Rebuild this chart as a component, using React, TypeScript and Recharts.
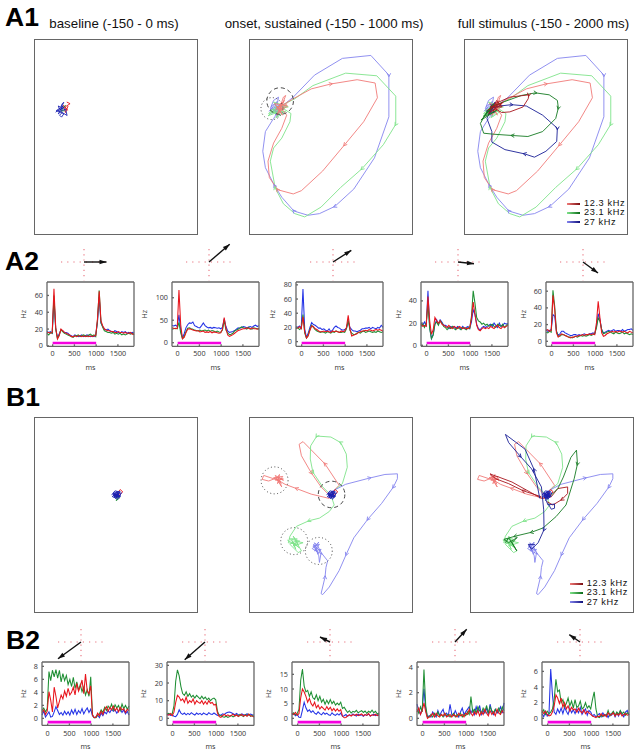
import React from "react";
import { LineChart, Line, XAxis, YAxis, ReferenceLine, ReferenceDot } from "recharts";

const FONT = "'Liberation Sans', Arial, sans-serif";
const TICK_FONT = "'Open Sans', sans-serif";
const RED = "#e8141c";
const GREEN = "#1f8f34";
const BLUE = "#2433e6";
const LIGHT_RED = "#f07a78";
const LIGHT_GREEN = "#7fe38a";
const LIGHT_BLUE = "#8484ee";
const DARK_RED = "#a8141c";
const DARK_GREEN = "#157a22";
const DARK_BLUE = "#1a1f96";

const frequencies = ["12.3 kHz", "23.1 kHz", "27 kHz"];

// time bins (ms) shared by all PSTH panels
const times = [
  -130, -90, -50, -10, 30, 70, 110, 150, 190, 230,
  270, 310, 350, 390, 430, 470, 510, 550, 590, 630,
  670, 710, 750, 790, 830, 870, 910, 950, 990, 1030,
  1070, 1110, 1150, 1190, 1230, 1270, 1310, 1350, 1390, 1430,
  1470, 1510, 1550, 1590, 1630, 1670, 1710, 1750, 1790, 1830, 1870,
];

const a2r1 = [16,16,15,16,68,22,8,12,20,18,16,15,14,13,11,11,12,11,12,12,11,12,11,12,11,12,11,12,12,32,65,30,24,20,19,18,18,17,17,16,16,17,16,16,15,16,15,15,16,14,14];
const a2g1 = [15,13,16,15,60,20,9,13,19,17,15,14,13,12,11,10,12,12,13,11,12,13,12,11,13,14,12,13,11,30,66,28,22,18,17,16,16,15,16,14,15,14,15,13,14,13,14,15,14,15,13];
const a2b1 = [17,16,17,15,55,21,10,14,19,18,16,16,15,13,12,11,13,12,11,12,13,11,12,13,12,11,12,11,13,28,58,27,23,20,19,20,18,17,16,18,17,16,15,17,16,17,15,16,15,16,15];

const a2r2 = [33,32,31,32,117,40,9,12,22,30,31,30,28,27,26,27,24,25,26,23,24,23,25,22,24,23,22,21,22,30,56,32,17,14,16,18,21,24,27,28,30,31,31,33,32,30,33,31,31,30,32];
const a2g2 = [30,31,32,31,45,22,9,14,24,32,33,31,30,28,27,26,28,26,27,28,26,28,25,27,26,24,26,24,23,28,50,28,22,18,19,21,26,28,30,33,35,33,32,30,34,31,30,33,32,31,30];
const a2b2 = [38,37,39,36,62,28,11,20,33,40,44,43,46,38,36,34,33,38,44,38,35,33,34,32,34,33,32,33,31,34,53,36,26,23,24,25,27,30,33,32,34,36,35,33,35,36,34,37,39,36,38];

const a2r3 = [20,19,21,18,35,14,5,8,16,22,21,18,17,15,14,14,15,14,15,14,13,15,14,15,14,13,15,14,15,20,37,18,8,9,10,11,13,14,15,15,16,15,17,16,15,16,17,16,17,16,15];
const a2g3 = [18,20,17,19,38,12,5,9,17,23,20,17,15,14,13,14,13,12,14,13,12,14,13,15,14,13,13,14,13,18,30,16,12,10,10,12,13,12,14,15,13,14,15,14,13,14,13,15,14,13,14];
const a2b3 = [21,20,22,19,74,18,6,12,20,27,24,23,21,19,19,17,18,16,15,18,14,16,20,22,20,19,17,16,17,19,28,20,17,15,15,14,15,16,18,18,19,19,20,18,20,19,18,20,19,23,20];

const a2r4 = [19,17,18,17,44,22,10,14,25,22,20,22,19,18,17,16,18,16,15,17,16,15,17,16,15,16,15,15,16,24,39,28,18,14,13,15,16,15,16,15,17,16,15,17,18,16,15,17,16,17,18];
const a2g4 = [17,19,16,20,37,15,6,9,19,21,18,22,20,17,16,14,16,15,17,15,14,16,15,14,16,15,14,16,15,26,49,38,25,22,21,19,20,18,19,17,18,19,17,16,19,18,17,19,16,18,19];
const a2b4 = [20,18,21,18,49,16,6,10,19,23,19,23,21,18,18,17,15,17,16,17,15,17,16,15,17,15,16,17,15,21,32,28,19,15,14,16,17,16,17,18,19,17,20,18,16,20,17,18,20,19,20];

const a2r5 = [13,14,12,13,55,38,10,5,7,9,8,7,6,5,4,5,5,6,6,7,7,8,7,8,8,9,8,9,8,22,48,28,10,6,7,9,10,11,12,11,12,11,12,12,11,12,11,10,12,11,10];
const a2g5 = [11,10,12,11,61,42,12,6,6,8,8,7,6,5,5,4,5,6,5,6,7,6,7,6,7,8,7,8,9,16,28,24,14,9,10,11,12,11,10,9,11,10,9,10,11,9,10,9,8,9,8];
const a2b5 = [14,12,13,14,32,30,12,7,9,12,12,10,9,8,7,7,8,8,7,8,7,8,9,8,8,9,9,10,9,18,33,26,14,10,11,12,13,12,13,14,12,13,13,12,14,12,13,14,14,15,13];

const b2g1 = [1.2,1.6,1.0,1.5,7.2,5.8,7.4,6.4,7.5,6.2,7.4,5.6,6.9,5.8,6.6,5.2,6.0,4.9,6.3,4.6,5.6,4.3,5.2,4.1,4.8,3.6,4.4,3.4,6.4,0.6,0.1,0.1,0.5,0.7,1.3,0.9,1.7,1.2,1.9,1.5,2.2,1.3,2.1,1.6,2.0,1.2,2.2,1.5,2.0,1.4,1.9];
const b2r1 = [0.9,1.3,0.6,1.1,4.1,2.8,1.0,4.8,3.4,1.6,2.6,3.6,3.0,4.2,3.4,4.6,3.6,4.0,4.8,3.6,5.4,4.2,4.9,5.9,3.8,6.8,4.2,3.8,5.0,0.5,0.1,0.2,0.8,0.4,1.1,0.6,1.4,1.8,1.1,1.7,1.3,1.9,1.2,1.6,1.0,1.7,1.3,1.5,0.9,1.4,1.2];
const b2b1 = [0.5,1.1,0.2,0.6,1.0,0.2,0.3,1.0,1.8,1.2,0.6,0.9,0.5,1.1,0.6,1.0,0.5,1.3,0.7,1.4,0.6,1.2,0.8,1.5,0.7,1.2,1.6,0.9,1.4,0.4,0.1,0.2,0.5,0.1,0.8,0.4,1.0,0.7,1.2,0.9,1.4,1.1,1.3,0.8,1.2,1.5,0.9,1.3,0.7,1.1,0.5];

const b2g2 = [2.4,2.8,2.2,2.6,7,21,27.5,24,18,14,13,15,12.5,14,12,13,11.5,13,12,11,12.5,11,12,10.5,11.5,10,11,11.5,10.5,4,1.8,1.6,0.9,0.6,1.2,0.5,1.0,1.6,0.8,1.4,2.1,1.1,2.3,1.5,1.0,2.2,1.4,2.4,1.1,1.7,0.6];
const b2r2 = [2.2,1.8,2.7,1.5,3.5,9,13,12,10,11,9,12,8.5,10,9,11,8,10,9,8.5,10,8,9.5,8,10,8.5,9,7.5,8,3,1.0,0.5,1.6,2.2,1.4,2.0,1.2,1.7,2.4,1.3,1.9,1.1,1.6,2.2,1.3,1.8,1.1,2.3,1.5,1.2,1.0];
const b2b2 = [1.8,2.4,1.6,2.0,1.2,1.0,2.2,4.8,3.0,2.2,3.0,2.0,2.8,2.1,3.2,2.4,1.9,3.0,2.2,2.8,2.0,3.0,2.4,2.0,3.2,2.5,2.2,3.0,2.3,1.6,2.0,1.8,2.6,2.2,3.0,3.4,3.6,3.2,2.6,2.1,2.8,2.0,1.6,2.5,2.0,1.7,2.6,1.8,2.4,2.0,1.8];

const b2g3 = [1.4,1.9,1.2,1.7,3.0,13,16.8,11,9,9.5,7.5,9,7,6.5,8,6,7.5,5.5,6.5,4.8,6.2,5,6.4,5,5.8,4.5,5.2,4.6,5.5,3.4,3.8,2.8,2.0,2.6,1.8,2.4,2.1,2.7,1.9,2.3,2.6,2.0,2.5,1.7,2.4,2.0,2.8,1.9,2.4,1.5,1.8];
const b2r3 = [1.8,1.3,2.0,1.1,1.6,7,10,9,7.5,5.5,6.8,5,4.2,5.5,3.6,4.5,3.2,4,3.4,2.8,4,3,3.8,2.6,3.4,2.5,3.2,2.4,3,0.8,0.2,0.3,0.9,1.2,0.8,1.3,1.0,1.4,0.9,1.2,1.5,0.9,1.3,1.0,1.6,0.8,1.2,1.0,1.4,0.9,1.3];
const b2b3 = [1.2,1.6,0.9,1.3,0.4,0.3,2.8,5.5,3.6,2.4,2.9,2.0,2.6,1.8,1.4,2.2,1.6,1.2,2.0,1.4,1.8,1.2,1.0,1.9,1.3,1.0,1.6,1.1,1.8,0.7,0.9,1.3,0.7,1.2,0.9,1.5,1.1,0.8,1.4,1.0,1.2,0.7,1.3,1.0,1.5,0.8,1.1,1.4,0.9,1.2,1.0];

const b2g4 = [0.7,0.4,0.9,0.5,3.8,1.0,0.1,0.1,0.3,0.1,0.4,0.2,0.5,0.2,0.3,0.1,0.4,0.2,0.3,0.1,0.2,0.4,0.1,0.3,0.2,0.4,0.1,0.3,0.2,0.5,0.3,1.7,0.5,0.7,0.4,0.9,0.6,0.4,0.8,0.5,1.0,0.4,0.9,0.6,0.4,0.7,0.5,0.8,0.4,0.9,0.6];
const b2r4 = [0.5,0.8,0.3,0.6,1.2,0.5,0.0,0.1,0.2,0.4,0.1,0.4,0.2,0.1,0.3,0.2,0.4,0.1,0.2,0.3,0.1,0.3,0.2,0.1,0.4,0.2,0.3,0.1,0.4,0.3,0.7,0.4,0.2,0.5,0.3,0.6,0.2,0.5,0.3,0.7,0.4,0.2,0.6,0.3,0.5,0.2,0.7,0.4,0.3,0.6,0.4];
const b2b4 = [1.1,0.6,0.3,0.8,2.3,0.7,0.1,0.2,0.1,0.5,0.3,0.1,0.6,0.2,0.5,0.7,0.2,0.4,0.2,1.1,0.3,0.2,0.6,0.3,0.1,0.5,0.8,0.3,0.5,0.7,0.9,0.4,0.7,0.3,0.9,0.5,1.0,0.3,0.6,0.4,0.8,0.3,1.1,0.5,0.3,0.7,0.4,0.6,0.9,0.4,1.2];

const b2g5 = [0.7,1.1,0.5,0.9,0.6,0.8,1.2,2.4,5.0,3.4,3.6,2.0,2.4,1.5,1.9,2.6,1.6,2.2,1.3,2.4,1.4,1.6,2.2,1.2,1.4,2.0,1.3,1.6,1.2,2.4,3.4,1.2,0.2,0.1,0.4,0.2,0.5,0.3,1.0,0.3,0.6,0.9,0.4,0.8,0.5,1.0,0.6,0.8,0.4,0.7,0.5];
const b2r5 = [1.0,0.6,0.9,0.5,0.3,0.4,0.8,1.6,3.0,2.6,1.9,2.6,1.4,2.0,1.2,1.6,0.9,1.4,1.1,1.2,0.8,1.3,0.9,0.7,1.1,0.6,0.9,0.7,0.5,0.3,0.2,0.1,0.3,0.2,0.6,0.3,0.5,0.2,0.7,0.4,0.5,0.7,0.3,0.6,0.4,0.7,0.3,0.5,0.6,0.4,0.5];
const b2b5 = [0.6,0.2,0.9,0.3,0.5,6.3,3.0,0.8,0.5,1.2,0.7,1.3,0.6,1.4,0.9,0.5,1.3,0.7,1.1,0.6,1.2,0.7,1.4,0.5,0.9,1.2,0.4,1.0,0.8,0.3,0.5,0.2,0.4,0.6,0.2,0.7,0.3,0.5,0.1,0.6,0.4,0.8,0.2,0.7,0.3,0.9,0.5,0.2,0.8,1.0,0.4];

const a2Traces = [
  [a2b1, a2g1, a2r1], [a2b2, a2g2, a2r2], [a2b3, a2g3, a2r3], [a2b4, a2g4, a2r4], [a2b5, a2g5, a2r5],
];
const b2Traces = [
  [b2b1, b2g1, b2r1], [b2b2, b2g2, b2r2], [b2b3, b2g3, b2r3], [b2b4, b2g4, b2r4], [b2b5, b2g5, b2r5],
];
const a2Domains = [[-0.5, 76], [-8, 135], [-6.6, 84], [-0.9, 57], [-6, 71]];
const b2Domains = [[-1.08, 8.67], [-4, 31.9], [-2.4, 19.2], [-0.55, 4.39], [-0.9, 7.2]];
const a2Ticks = [[0, 20, 40, 60], [0, 50, 100], [0, 20, 40, 60, 80], [0, 20, 40], [0, 20, 40, 60]];
const b2Ticks = [[0, 2, 4, 6, 8], [0, 10, 20, 30], [0, 5, 10, 15], [0, 2, 4], [0, 2, 4, 6]];

// preferred direction arrows above the PSTHs
const a2Arrows = [[22.5, 0], [20.7, 17.7], [18.3, 11.7], [16, -1.7], [15, -11]];
const b2Arrows = [[-23, -16.7], [-20.3, -17.7], [-10, 5], [11.7, 12.7], [-10.7, 7.3]];

// state space trajectories, third element marks an arrowhead
type P = number[];
const a1BaseBlue: P[] = [[76,231],[88,222],[84,212],[91,216],[97,204],[101,201],[92,218],[86,221],[78,226],[90,230],[101,236],[94,246],[88,240],[96,232],[111,241],[106,221],[96,226],[84,236],[98,212],[90,224],[102,216],[82,228]];
const a1BaseRed: P[] = [[110,200],[120,205],[105,215],[112,225],[100,210],[106,232],[114,212]];
const a1BaseGreen: P[] = [[98,218],[106,210],[92,228],[104,226]];

const a1OnsetRed: P[] = [[100,215],[120,205],[145,190],[200,160],[260,145,1],[340,132],[395,142],[402,187],[360,260],[302,330,1],[235,410],[170,470],[145,480],[97,467,1],[72,430],[68,380],[85,325],[110,280],[125,240],[105,215],[115,185],[122,180],[105,225],[125,205],[95,240],[110,200],[92,225],[118,195],[100,232],[128,212],[88,205],[112,240],[96,212]];
const a1OnsetGreen: P[] = [[100,215],[150,190],[205,150],[305,112],[400,120],[458,182],[458,268,1],[420,330],[355,403,1],[290,460],[230,520],[180,550],[150,540],[115,510],[90,462,1],[75,380],[85,340],[110,310],[135,260],[138,235],[115,220],[70,235],[90,215],[125,210],[100,240],[75,225],[130,215],[85,200],[105,228],[68,242],[110,205],[82,232],[122,228],[92,248],[108,215]];
const a1OnsetBlue: P[] = [[95,225],[145,185],[210,118],[295,67],[382,58],[437,118,1],[437,245],[393,370],[330,465],[272,518,1],[225,540],[190,545],[147,532,1],[110,490],[88,455,1],[60,400],[52,350],[60,290],[85,250],[100,230],[75,220],[85,195],[100,185],[95,215],[80,235],[105,205],[90,240],[110,220],[85,215],[72,228],[96,198],[84,226],[104,232],[90,205],[78,212],[98,244],[88,222]];

const a1OffsetRed: P[] = [[105,205],[150,185],[208,178,1],[206,190],[190,215],[150,230],[125,232],[105,220],[85,235],[110,195],[125,215],[90,215],[115,205],[98,228],[130,200],[82,225]];
const a1OffsetGreen: P[] = [[90,215],[130,200],[185,180],[228,172,1],[270,178],[295,195],[298,218,1],[290,250],[250,290],[205,305],[158,302,1],[100,298],[70,295],[60,265],[80,230],[100,205],[70,245],[110,225],[62,255],[95,218],[76,238],[108,208]];
const a1OffsetBlue: P[] = [[90,220],[120,212],[155,208,1],[200,212],[250,240],[295,280,1],[293,320],[260,350],[225,368],[195,358,1],[135,345],[95,322],[95,290],[80,250],[90,225],[105,200],[85,240],[100,215],[78,228],[102,232],[92,206]];

const b1BaseBlue: P[] = [[262,345],[272,332],[285,335],[275,350],[290,348],[268,338],[280,358],[292,338],[276,342],[264,350],[278,334],[286,352],[270,346],[284,342],[274,356],[266,340],[288,334],[278,348],[272,342],[284,350],[268,352],[280,338]];
const b1BaseRed: P[] = [[275,345],[288,328],[296,335],[280,350],[268,342]];
const b1BaseGreen: P[] = [[270,352],[282,345],[276,362],[288,352]];

const b1OnsetRed: P[] = [[275,340],[300,315],[257,250,1],[190,182],[178,190],[185,225],[215,277,1],[245,320],[270,345],[270,355],[215,342],[170,325,1],[135,312],[115,300],[70,285],[65,297],[85,302],[115,290],[130,300],[105,285],[125,320],[110,295],[122,305],[100,292],[128,288],[112,310],[118,282],[106,300],[130,296],[114,292],[124,312]];
const b1OnsetGreen: P[] = [[280,335],[310,310],[325,260],[322,220],[305,185,1],[275,168],[232,165,1],[213,195],[212,235],[220,275,1],[250,320],[275,345],[285,375],[270,395],[240,415],[208,423,1],[170,440],[150,470],[145,490],[175,495],[160,470],[185,515],[175,520],[150,495],[165,485],[190,490],[160,500],[172,478],[148,478],[178,505],[158,488],[168,510],[155,480],[180,485],[162,494],[172,500],[142,482]];
const b1OnsetBlue: P[] = [[275,335],[320,312],[393,293,1],[440,282],[478,280],[478,295],[466,320,1],[430,370],[388,418,1],[345,475],[322,525,1],[300,575],[270,625],[250,648],[245,645],[257,595,1],[260,565],[265,545],[245,520],[240,550],[238,530],[230,510],[220,500],[240,495],[225,515],[245,510],[235,525],[225,490],[235,500],[248,525],[218,508],[238,488],[228,503],[242,515],[222,495],[232,518],[226,505]];

const b1OffsetRed: P[] = [[260,350],[205,332,1],[160,310],[120,295],[103,280],[115,285],[130,290],[170,305],[260,355],[290,350],[310,325],[340,320],[340,340],[323,358,1],[295,375],[277,365]];
const b1OffsetGreen: P[] = [[285,350],[310,325],[327,290],[350,230],[367,208],[370,250,1],[360,295],[335,375],[305,410],[265,445],[230,458,1],[180,470,1],[145,480],[160,490],[185,475],[170,490],[185,515],[160,475],[150,490]];
const b1OffsetBlue: P[] = [[255,355],[238,268,1],[210,205],[150,160],[160,185],[195,226,1],[230,265],[260,320],[267,390],[268,450,1],[250,490],[230,510],[220,495],[240,495]];
const b1OffsetLoop: P[] = [[280,370],[290,388],[300,385],[300,372],[280,375],[270,350],[285,342],[272,362]];

const a1Panels = [
  { left: 34.3, traces: [[a1BaseRed, RED], [a1BaseGreen, GREEN], [a1BaseBlue, "#1a1fb0"]], xLo: 13 },
  { left: 249.3, traces: [[a1OnsetBlue, LIGHT_BLUE], [a1OnsetGreen, LIGHT_GREEN], [a1OnsetRed, LIGHT_RED]], xLo: 13 },
  { left: 464.3, traces: [[a1OnsetBlue, LIGHT_BLUE], [a1OnsetGreen, LIGHT_GREEN], [a1OnsetRed, LIGHT_RED], [a1OffsetBlue, DARK_BLUE], [a1OffsetGreen, DARK_GREEN], [a1OffsetRed, DARK_RED]], xLo: 13 },
];
const b1Panels = [
  { left: 34.3, traces: [[b1BaseRed, RED], [b1BaseGreen, GREEN], [b1BaseBlue, "#1a1fb0"]], xLo: 28 },
  { left: 249.3, traces: [[b1OnsetRed, LIGHT_RED], [b1OnsetGreen, LIGHT_GREEN], [b1OnsetBlue, LIGHT_BLUE], [b1BaseRed, RED], [b1BaseBlue, "#1a1fb0"]], xLo: 28 },
  { left: 470, traces: [[b1OnsetRed, LIGHT_RED], [b1OnsetGreen, LIGHT_GREEN], [b1OnsetBlue, LIGHT_BLUE], [b1OffsetRed, DARK_RED], [b1OffsetGreen, DARK_GREEN], [b1OffsetBlue, DARK_BLUE], [b1OffsetLoop, DARK_BLUE], [b1BaseRed, RED], [b1BaseBlue, "#1a1fb0"]], xLo: 45 },
];
const a1Circles = [
  { x: 105, y: 197, r: 13.3, dash: "4 3" },
  { x: 80, y: 220, r: 11, dash: "1 2.5" },
];
const b1Circles = [
  { x: 277, y: 343, r: 13.3, dash: "4 3" },
  { x: 103, y: 300, r: 13.5, dash: "1 2.5" },
  { x: 163, y: 485, r: 13.5, dash: "1 2.5" },
  { x: 238, y: 515, r: 13.5, dash: "1 2.5" },
];

const BOX_W = 163.5;
const BOX_H = 196;
const PSTH_W = 87;
const PAD = 34;

const toPoints = (list: P[]) => list.map(([x, y, m]) => ({ x, y, m }));

function chevronDot(pts: { x: number; y: number; m?: number }[], color: string) {
  return (props: any) => {
    const { cx, cy, index } = props;
    const p = pts[index];
    const q = pts[index + 1];
    if (!p || !p.m || !q) return <g key={index} />;
    const a = Math.atan2(q.y - p.y, q.x - p.x);
    const tip = [cx + 1.5 * Math.cos(a), cy + 1.5 * Math.sin(a)];
    const b1 = [tip[0] + 3.8 * Math.cos(a + 2.65), tip[1] + 3.8 * Math.sin(a + 2.65)];
    const b2 = [tip[0] + 3.8 * Math.cos(a - 2.65), tip[1] + 3.8 * Math.sin(a - 2.65)];
    return (
      <path key={index} d={`M${b1[0]} ${b1[1]}L${tip[0]} ${tip[1]}L${b2[0]} ${b2[1]}`} fill="none" stroke={color} strokeWidth={0.9} />
    );
  };
}

function StatePanel({ left, top, xLo, yLo, traces, circles }: any) {
  return (
    <div style={{ position: "absolute", left, top, width: BOX_W, height: BOX_H, border: "1.5px solid #666", boxSizing: "border-box" }}>
      <LineChart width={BOX_W - 3} height={BOX_H - 3} margin={{ top: 0, right: 0, bottom: 0, left: 0 }}>
        <XAxis hide type="number" dataKey="x" domain={[xLo, xLo + 490]} />
        <YAxis hide reversed type="number" dataKey="y" domain={[yLo, yLo + 588]} />
        {traces.map(([list, color]: any, i: number) => {
          const pts = toPoints(list);
          return (
            <Line key={i} data={pts} dataKey="y" stroke={color} strokeWidth={0.9} dot={chevronDot(pts, color)} activeDot={false} isAnimationActive={false} />
          );
        })}
        {(circles || []).map((c: any, i: number) => (
          <ReferenceDot key={i} x={c.x} y={c.y} r={c.r} fill="none" stroke="#333" strokeWidth={0.9} strokeDasharray={c.dash} />
        ))}
      </LineChart>
    </div>
  );
}

function DirectionCross({ cx, cy, vector }: { cx: number; cy: number; vector: number[] }) {
  const [dx, dy] = vector;
  const angle = Math.atan2(-dy, dx);
  const arrowHead = (props: any) => {
    if (props.index !== 1) return <g key={props.index} />;
    const { cx: x, cy: y } = props;
    const back = [x - 7 * Math.cos(angle), y - 7 * Math.sin(angle)];
    const nx = -Math.sin(angle) * 2.3;
    const ny = Math.cos(angle) * 2.3;
    return <path key={props.index} d={`M${x} ${y}L${back[0] + nx} ${back[1] + ny}L${back[0] - nx} ${back[1] - ny}Z`} fill="#111" />;
  };
  return (
    <div style={{ position: "absolute", left: cx - 30, top: cy - 22 }}>
      <LineChart width={60} height={44} margin={{ top: 0, right: 0, bottom: 0, left: 0 }}>
        <XAxis hide type="number" dataKey="x" domain={[-30, 30]} />
        <YAxis hide type="number" dataKey="y" domain={[-22, 22]} />
        <ReferenceLine segment={[{ x: -23, y: 0 }, { x: 23, y: 0 }]} stroke="#e8707c" strokeWidth={1.1} strokeDasharray="1.2 5" />
        <ReferenceLine segment={[{ x: 0, y: 13 }, { x: 0, y: -18.5 }]} stroke="#e8707c" strokeWidth={1.1} strokeDasharray="1.2 4" />
        <Line data={[{ x: 0, y: 0 }, { x: dx, y: dy }]} dataKey="y" stroke="#111" strokeWidth={1.4} dot={arrowHead} activeDot={false} isAnimationActive={false} />
      </LineChart>
    </div>
  );
}

function Psth({ left, top, height, traces, domain, ticks, hzGap }: any) {
  const [blue, green, red] = traces;
  const data = times.map((t, i) => ({ t, blue: blue[i], green: green[i], red: red[i] }));
  const stimY = domain[0] + (domain[1] - domain[0]) * 0.052;
  const xTicks = [0, 500, 1000, 1500];
  const tickStyle = { fontSize: 7.2, fill: "#333", fontFamily: TICK_FONT };
  const labelStyle = { fontSize: 7.2, fill: "#333", fontFamily: TICK_FONT };
  const axisColor = "#666";
  return (
    <div style={{ position: "absolute", left: left - PAD, top: top - 2 }}>
      <LineChart width={PAD + PSTH_W + 2} height={height + 2 + 28} data={data} margin={{ top: 1, right: 1, bottom: 0, left: 0 }}>
        <XAxis
          dataKey="t" type="number" domain={[-130, 1870]} ticks={xTicks} interval={0} height={28}
          tick={tickStyle} tickSize={-2} tickMargin={7} stroke={axisColor} strokeWidth={1.3}
          label={{ value: "ms", position: "insideBottom", offset: 4, style: labelStyle }}
        />
        <XAxis xAxisId="top" orientation="top" type="number" domain={[-130, 1870]} ticks={xTicks} interval={0} height={1} tick={false} tickSize={-2} stroke={axisColor} strokeWidth={1.3} />
        <YAxis
          type="number" domain={domain} ticks={ticks} interval={0} width={PAD}
          tick={tickStyle} tickSize={-2} tickMargin={6} stroke={axisColor} strokeWidth={1.3}
          label={{ value: "Hz", angle: -90, position: "insideLeft", offset: PAD - hzGap, textAnchor: "middle", style: { ...labelStyle, textAnchor: "middle" } }}
        />
        <YAxis yAxisId="right" orientation="right" type="number" domain={domain} ticks={ticks} interval={0} width={1} tick={false} tickSize={-2} stroke={axisColor} strokeWidth={1.3} />
        <Line dataKey="blue" stroke={BLUE} strokeWidth={1.05} dot={false} activeDot={false} isAnimationActive={false} />
        <Line dataKey="green" stroke={GREEN} strokeWidth={1.05} dot={false} activeDot={false} isAnimationActive={false} />
        <Line dataKey="red" stroke={RED} strokeWidth={1.05} dot={false} activeDot={false} isAnimationActive={false} />
        <ReferenceLine segment={[{ x: 0, y: stimY }, { x: 1000, y: stimY }]} stroke="#f500e0" strokeWidth={2.6} />
      </LineChart>
    </div>
  );
}

function FreqLegend({ left, top }: { left: number; top: number }) {
  const swatches = [["#f07a78", "#7a0c10"], ["#7fe38a", "#0a6a18"], ["#8484ee", "#10107a"]];
  return (
    <div style={{ position: "absolute", left, top, fontFamily: FONT, fontSize: 9.2, letterSpacing: 0.62, lineHeight: "9.3px", color: "#111" }}>
      {frequencies.map((f, i) => (
        <div key={f} style={{ display: "flex", alignItems: "center", height: 9.3 }}>
          <div style={{ width: 12.5, height: 2, marginRight: 4.2, background: `linear-gradient(90deg, ${swatches[i][0]}, ${swatches[i][1]})` }} />
          <span>{f}</span>
        </div>
      ))}
    </div>
  );
}

function Heading({ x, y, children }: any) {
  return <div style={{ position: "absolute", left: x, top: y, fontFamily: FONT, fontWeight: 700, fontSize: 26.5, lineHeight: "26px", color: "#000" }}>{children}</div>;
}
function Subtitle({ x, children }: any) {
  return <div style={{ position: "absolute", left: x, top: 15.5, fontFamily: FONT, fontSize: 13.3, lineHeight: "16px", whiteSpace: "nowrap", color: "#111" }}>{children}</div>;
}

const a2Lefts = [46.7, 171.7, 296.3, 421, 545.7];
const a2Cross = [84, 208.7, 333.3, 458.3, 583.3];
const a2HzGap = [23.7, 27.7, 24, 22.7, 22.3];
const b2Lefts = [41.7, 166.7, 291.7, 416.7, 541.7];
const b2Cross = [80.7, 205.3, 330, 455, 580];
const b2HzGap = [18.3, 23.3, 23.3, 18.3, 18.3];

export default function App() {
  return (
    <div style={{ position: "absolute", left: 0, top: 0, width: 640, height: 755, background: "#fff", overflow: "hidden" }}>
      <Heading x={5} y={4}>A1</Heading>
      <Heading x={5} y={248}>A2</Heading>
      <Heading x={6} y={384}>B1</Heading>
      <Heading x={6} y={627}>B2</Heading>
      <Subtitle x={49.3}>baseline (-150 - 0 ms)</Subtitle>
      <Subtitle x={224.7}>onset, sustained (-150 - 1000 ms)</Subtitle>
      <Subtitle x={457.7}>full stimulus (-150 - 2000 ms)</Subtitle>

      {a1Panels.map((p, i) => (
        <StatePanel key={i} left={p.left} top={38.5} xLo={p.xLo} yLo={11} traces={p.traces} circles={i === 1 ? a1Circles : []} />
      ))}
      {b1Panels.map((p, i) => (
        <StatePanel key={i} left={p.left} top={416.8} xLo={p.xLo} yLo={110} traces={p.traces} circles={i === 1 ? b1Circles : []} />
      ))}
      <FreqLegend left={567.3} top={199} />
      <FreqLegend left={570} top={579} />

      {a2Traces.map((tr, i) => (
        <React.Fragment key={i}>
          <DirectionCross cx={a2Cross[i]} cy={261.7} vector={a2Arrows[i]} />
          <Psth left={a2Lefts[i]} top={281.7} height={64.3} traces={tr} domain={a2Domains[i]} ticks={a2Ticks[i]} hzGap={a2HzGap[i]} />
        </React.Fragment>
      ))}
      {b2Traces.map((tr, i) => (
        <React.Fragment key={i}>
          <DirectionCross cx={b2Cross[i]} cy={641.7} vector={b2Arrows[i]} />
          <Psth left={b2Lefts[i]} top={662.3} height={63.4} traces={tr} domain={b2Domains[i]} ticks={b2Ticks[i]} hzGap={b2HzGap[i]} />
        </React.Fragment>
      ))}
    </div>
  );
}
